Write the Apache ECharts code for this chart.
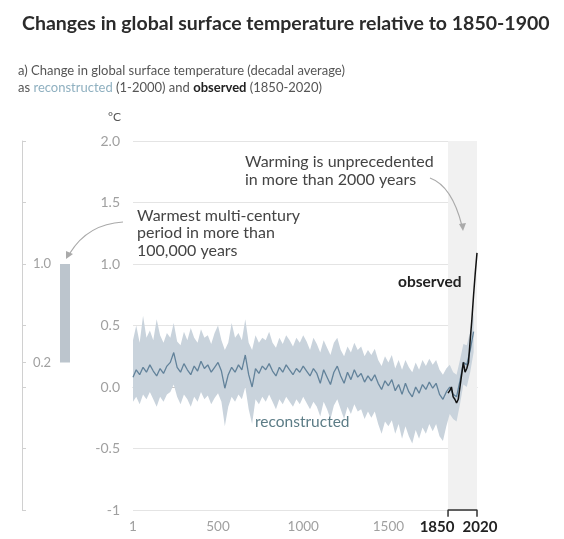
<!DOCTYPE html>
<html>
<head>
<meta charset="utf-8">
<script src="https://cdn.jsdelivr.net/npm/echarts@6/dist/echarts.min.js"></script>
<style>html,body{margin:0;padding:0;background:#fff}#c{width:564px;height:539px}</style>
</head>
<body>
<div id="c"></div>
<script>
// ---- data ----
var reconYears = [1,20,40,60,80,100,120,140,160,180,200,220,240,260,280,300,320,340,360,380,400,420,440,460,480,500,520,540,560,580,600,620,640,660,680,700,720,740,760,780,800,820,840,860,880,900,920,940,960,980,1000,1020,1040,1060,1080,1100,1120,1140,1160,1180,1200,1220,1240,1260,1280,1300,1320,1340,1360,1380,1400,1420,1440,1460,1480,1500,1520,1540,1560,1580,1600,1620,1640,1660,1680,1700,1720,1740,1760,1780,1800,1820,1840,1860,1880,1900,1920,1940,1960,1980,2000];
var reconMedian = [0.08,0.14,0.10,0.16,0.12,0.18,0.13,0.09,0.15,0.11,0.17,0.20,0.28,0.16,0.12,0.19,0.14,0.10,0.17,0.13,0.21,0.15,0.18,0.12,0.16,0.20,0.13,-0.01,0.10,0.16,0.12,0.18,0.14,0.26,0.10,0.00,0.15,0.11,0.17,0.14,0.19,0.13,0.09,0.16,0.12,0.18,0.14,0.10,0.15,0.12,0.17,0.13,0.09,0.15,0.11,0.03,0.14,0.08,0.02,0.12,0.17,0.09,0.03,0.12,0.06,0.14,0.08,0.11,0.04,0.09,0.05,0.10,0.03,-0.02,0.05,0.01,0.06,-0.03,0.02,-0.06,0.03,-0.04,-0.08,0.00,-0.05,0.02,-0.02,0.04,-0.01,0.03,-0.06,-0.10,-0.04,0.00,-0.06,-0.08,0.05,0.20,0.18,0.30,0.45];
var reconUpper = [0.38,0.50,0.36,0.58,0.40,0.46,0.38,0.55,0.42,0.36,0.44,0.40,0.52,0.37,0.34,0.45,0.38,0.48,0.40,0.36,0.47,0.40,0.42,0.35,0.44,0.50,0.38,0.30,0.36,0.52,0.40,0.44,0.38,0.55,0.36,0.30,0.42,0.36,0.40,0.38,0.45,0.36,0.32,0.40,0.35,0.42,0.38,0.33,0.40,0.36,0.42,0.37,0.30,0.40,0.35,0.28,0.38,0.32,0.26,0.36,0.40,0.30,0.25,0.33,0.28,0.36,0.30,0.33,0.25,0.30,0.26,0.31,0.22,0.17,0.25,0.20,0.26,0.15,0.22,0.14,0.22,0.16,0.12,0.20,0.14,0.22,0.17,0.23,0.18,0.22,0.14,0.10,0.15,0.18,0.12,0.10,0.22,0.35,0.34,0.45,0.60];
var reconLower = [-0.12,-0.08,-0.14,-0.06,-0.10,-0.04,-0.10,-0.16,-0.08,-0.12,-0.06,-0.04,0.02,-0.08,-0.14,-0.06,-0.10,-0.16,-0.08,-0.12,-0.04,-0.10,-0.07,-0.14,-0.09,-0.05,-0.12,-0.32,-0.16,-0.08,-0.12,-0.06,-0.10,0.00,-0.18,-0.30,-0.10,-0.14,-0.08,-0.12,-0.06,-0.12,-0.18,-0.10,-0.14,-0.08,-0.12,-0.16,-0.10,-0.14,-0.08,-0.13,-0.18,-0.12,-0.16,-0.24,-0.12,-0.18,-0.26,-0.15,-0.10,-0.18,-0.26,-0.16,-0.22,-0.14,-0.20,-0.18,-0.26,-0.20,-0.25,-0.20,-0.30,-0.38,-0.28,-0.32,-0.27,-0.38,-0.30,-0.42,-0.32,-0.40,-0.46,-0.35,-0.42,-0.33,-0.38,-0.30,-0.36,-0.30,-0.40,-0.44,-0.32,-0.22,-0.26,-0.28,-0.14,0.02,0.00,0.12,0.28];
var obsYears = [1850,1860,1870,1880,1890,1900,1910,1920,1930,1940,1950,1960,1970,1980,1990,2000,2010,2020];
var obsValues = [-0.05,-0.03,0.00,-0.08,-0.10,-0.13,-0.10,0.00,0.10,0.20,0.12,0.15,0.20,0.38,0.55,0.75,0.93,1.09];
var warmRange = [0.2, 1.0];
var xTickLabels = [1,500,1000,1500,1850,2020];
var yTickValues = [-1,-0.5,0,0.5,1,1.5,2];

// ---- build ----
function pairs(xs, ys){ return xs.map(function(x,i){ return [x, ys[i]]; }); }
var bandData = reconYears.map(function(x,i){ return [x, reconLower[i], reconUpper[i]]; });

function renderBand(params, api){
  if (params.dataIndex !== 0) return null;
  var pts = [];
  for (var i = 0; i < reconYears.length; i++) pts.push(api.coord([reconYears[i], reconUpper[i]]));
  for (var j = reconYears.length - 1; j >= 0; j--) pts.push(api.coord([reconYears[j], reconLower[j]]));
  return { type: 'polygon', shape: { points: pts }, style: { fill: '#c9d3dc' } };
}

var FONT = 'Lato, "Noto Sans", sans-serif';
var chart = echarts.init(document.getElementById('c'), null, {renderer:'canvas'});
chart.setOption({
  animation: false,
  backgroundColor: '#fff',
  textStyle: { fontFamily: FONT },
  title: {
    text: 'Changes in global surface temperature relative to 1850-1900',
    left: 17, top: 9,
    textStyle: { fontFamily: FONT, fontSize: 19.5, fontWeight: 'bold', color: '#2b2b2b' }
  },
  grid: [
    { left: 133, right: 87, top: 141, bottom: 29 },
    { left: 22, width: 86, top: 141, bottom: 29 }
  ],
  xAxis: [
    { type: 'value', gridIndex: 0, min: 1, max: 2020,
      axisLine: { show: true, lineStyle: { color: '#c8c8c8' } },
      splitLine: { show: false },
      axisTick: { show: true, customValues: [500,1000,1500], length: 3, lineStyle: { color: '#d0d0d0' } },
      axisLabel: { customValues: xTickLabels, margin: 10, fontSize: 13.5, color: '#a0a0a0', fontFamily: FONT,
        formatter: function(v){ return v === 1850 ? '{b1|' + v + '}' : (v === 2020 ? '{b2|' + v + '}' : String(v)); },
        rich: {
          b1: { fontWeight: 'bold', color: '#222', fontSize: 15, fontFamily: FONT, padding: [0, 22, 0, 0] },
          b2: { fontWeight: 'bold', color: '#222', fontSize: 15, fontFamily: FONT, padding: [0, 0, 0, 6] }
        } }
    },
    { type: 'category', gridIndex: 1, data: ['w'], show: false }
  ],
  yAxis: [
    { type: 'value', gridIndex: 0, min: -1, max: 2, interval: 0.5,
      axisLine: { show: false }, axisTick: { show: false },
      splitLine: { show: true, lineStyle: { color: '#e4e4e4', width: 1 } },
      axisLabel: { margin: 13, fontSize: 14, color: '#a0a0a0', fontFamily: FONT,
        formatter: function(v){ return v === -1 ? '-1' : v.toFixed(1); } }
    },
    { type: 'value', gridIndex: 1, min: -1, max: 2, interval: 0.5, position: 'left',
      axisLine: { show: true, lineStyle: { color: '#d0d0d0' } },
      axisTick: { show: true, customValues: yTickValues.concat([0.2]), length: 4, inside: true, lineStyle: { color: '#d0d0d0' } },
      splitLine: { show: false },
      axisLabel: { customValues: warmRange, inside: true, margin: 11, fontSize: 13, color: '#a0a0a0', fontFamily: FONT,
        formatter: function(v){ return v.toFixed(1); } }
    }
  ],
  series: [
    { type: 'line', xAxisIndex: 0, yAxisIndex: 0, data: [], z: 0, silent: true,
      markArea: { silent: true, itemStyle: { color: '#f1f1f1' }, data: [[{ xAxis: 1850 }, { xAxis: 2020 }]] } },
    { name: 'band', type: 'custom', xAxisIndex: 0, yAxisIndex: 0, data: bandData, encode: { x: 0, y: [1, 2] },
      renderItem: renderBand, z: 1, silent: true },
    { name: 'reconstructed', type: 'line', xAxisIndex: 0, yAxisIndex: 0, data: pairs(reconYears, reconMedian),
      symbol: 'none', lineStyle: { color: '#62829a', width: 1.3 }, z: 3 },
    { name: 'observed', type: 'line', xAxisIndex: 0, yAxisIndex: 0, data: pairs(obsYears, obsValues),
      symbol: 'none', lineStyle: { color: '#111', width: 1.5 }, z: 4 },
    { name: 'bracket', type: 'line', xAxisIndex: 0, yAxisIndex: 0, clip: false, silent: true,
      data: [[1850,-1.055],[1850,-1],[2020,-1],[2020,-1.055]], symbol: 'none', lineStyle: { color: '#333', width: 1.5 }, z: 5 },
    { name: 'base', type: 'bar', xAxisIndex: 1, yAxisIndex: 1, stack: 'w', data: [warmRange[0]], barWidth: 10,
      itemStyle: { color: 'transparent' }, silent: true },
    { name: 'warm', type: 'bar', xAxisIndex: 1, yAxisIndex: 1, stack: 'w', data: [+(warmRange[1]-warmRange[0]).toFixed(2)], barWidth: 10,
      itemStyle: { color: '#bcc5cd' }, silent: true }
  ],
  graphic: [
    { type: 'text', z: 100, left: 18, top: 62, style: {
        text: 'a) Change in global surface temperature (decadal average)\nas {r|reconstructed} (1-2000) and {b|observed} (1850-2020)',
        font: '13px ' + FONT, fill: '#555', lineHeight: 17,
        rich: { r: { fill: '#8fb0c0', font: '13px ' + FONT }, b: { fill: '#222', font: 'bold 13px ' + FONT } } } },
    { type: 'text', z: 100, left: 108, top: 111, style: { text: '°C', font: '12px ' + FONT, fill: '#555' } },
    { type: 'text', z: 100, left: 245, top: 153, style: { text: 'Warming is unprecedented\nin more than 2000 years', font: '16px ' + FONT, fill: '#444', lineHeight: 18 } },
    { type: 'text', z: 100, left: 137, top: 207, style: { text: 'Warmest multi-century\nperiod in more than\n100,000 years', font: '16px ' + FONT, fill: '#444', lineHeight: 17.5 } },
    { type: 'text', z: 100, left: 398, top: 274, style: { text: 'observed', font: 'bold 15.5px ' + FONT, fill: '#222' } },
    { type: 'text', z: 100, left: 255, top: 414, style: { text: 'reconstructed', font: '15.5px ' + FONT, fill: '#5c7c86' } },
    { type: 'bezierCurve', z: 100, shape: { x1: 430, y1: 178, x2: 462, y2: 226, cpx1: 452, cpy1: 186 }, style: { stroke: '#aaa', lineWidth: 1.2, fill: null } },
    { type: 'polygon', z: 100, shape: { points: [[459,224],[466,223],[463,231]] }, style: { fill: '#aaa' } },
    { type: 'bezierCurve', z: 100, shape: { x1: 123, y1: 222, x2: 70, y2: 253, cpx1: 88, cpy1: 224 }, style: { stroke: '#aaa', lineWidth: 1.2, fill: null } },
    { type: 'polygon', z: 100, shape: { points: [[66,251],[73,254],[66,259]] }, style: { fill: '#aaa' } }
  ]
});
</script>
</body>
</html>
